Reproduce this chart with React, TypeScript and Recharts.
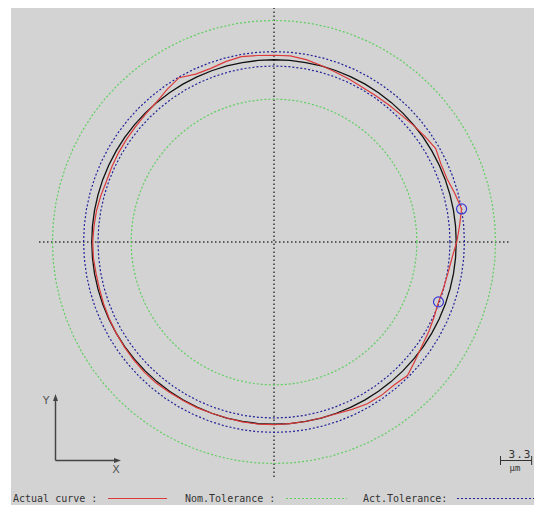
import React from 'react';
import { ScatterChart, Scatter, XAxis, YAxis, ReferenceLine } from 'recharts';

// Roundness profile, sampled every 5 degrees counter-clockwise from +X
const ANGLES = [
  0, 5, 10, 15, 20, 25, 30, 35, 40, 45, 50, 55, 60, 65, 70, 75, 80, 85,
  90, 95, 100, 105, 110, 115, 120, 125, 130, 135, 140, 145, 150, 155, 160, 165, 170, 175,
  180, 185, 190, 195, 200, 205, 210, 215, 220, 225, 230, 235, 240, 245, 250, 255, 260, 265,
  270, 275, 280, 285, 290, 295, 300, 305, 310, 315, 320, 325, 330, 335, 340, 345, 350, 355,
];

// deviation of the actual curve from nominal, µm
const ACTUAL_DEV = [
  0.05, 0.42, 0.86, 0.52, 0.21, 0.21, 0.47, 0.21, -0.05, -0.26, -0.36, -0.42, -0.42, -0.31, -0.16, 0.05, 0.31, 0.47,
  0.47, 0.52, 0.62, 0.47, 0.26, 0.31, 0.78, 0.42, 0.05, -0.1, -0.21, -0.26, -0.31, -0.36, -0.42, -0.31, -0.21, -0.16,
  -0.1, -0.1, -0.16, -0.16, -0.1, -0.05, 0, 0.05, 0.1, 0.16, 0.16, 0.1, 0.05, 0.05, 0, 0, 0.05, 0.05,
  0.05, 0, 0, 0, 0.05, 0.26, 0.47, 0.52, 0.47, 0.68, 0.21, -0.16, -0.36, -0.57, -0.75, -0.68, -0.57, -0.36,
];

// suppressed display radius of the nominal circle, µm
const NOMINAL_R = 19.0;
const NOM_TOLERANCE = [-4.1, 4.1];
const ACT_TOLERANCE = [-0.65, 0.85];

// max / min points flagged on the actual curve
const MARKER_ANGLES = [10, 340];

const SCALE_UM = 3.3;
const HALF_SPAN = 24.5;

const PLOT = 470;
const CX = 274;
const CY = 242;
const PX_PER_UM = PLOT / (2 * HALF_SPAN);

const toXY = (angle: number, r: number) => {
  const a = (angle * Math.PI) / 180;
  return { x: r * Math.cos(a), y: r * Math.sin(a) };
};

const ring = (dev: number) => {
  const pts = ANGLES.map((a) => toXY(a, NOMINAL_R + dev));
  return [...pts, pts[0]];
};

const actualPts = (() => {
  const pts = ANGLES.map((a, i) => toXY(a, NOMINAL_R + ACTUAL_DEV[i]));
  return [...pts, pts[0]];
})();

const markerPts = MARKER_ANGLES.map((m) => {
  const i = ANGLES.indexOf(m);
  return toXY(m, NOMINAL_R + ACTUAL_DEV[i]);
});

const GREEN = '#5fcf5f';
const BLUE = '#22229a';
const RED = '#dc3a3a';
const INK = '#333';

const noDot = () => <g />;

const MarkerRing = (props: any) => (
  <circle cx={props.cx} cy={props.cy} r={5} fill="none" stroke="#3a3ad6" strokeWidth={1.2} />
);

const Overlay = () => {
  const barLen = SCALE_UM * PX_PER_UM;
  const mono = { fontFamily: '"DejaVu Sans Mono", monospace', fontSize: 10, fill: INK };
  return (
    <svg
      width={542}
      height={513}
      style={{ position: 'absolute', left: 0, top: 0, pointerEvents: 'none' }}
    >
      {/* XY orientation glyph */}
      <g stroke="#444" strokeWidth={1.5} fill="#444">
        <line x1={55.5} y1={460.5} x2={55.5} y2={398} />
        <polygon points="55.5,394 53,401 58,401" stroke="none" />
        <line x1={55.5} y1={460.5} x2={117} y2={460.5} />
        <polygon points="121,460.5 114,458 114,463" stroke="none" />
      </g>
      <text x={46} y={404} textAnchor="middle" fontFamily="DejaVu Sans, sans-serif" fontSize={11} fill="#555">Y</text>
      <text x={116} y={473} textAnchor="middle" fontFamily="DejaVu Sans, sans-serif" fontSize={11} fill="#555">X</text>

      {/* scale bar */}
      <g stroke="#333" strokeWidth={1}>
        <line x1={500} y1={460.5} x2={500 + barLen} y2={460.5} />
        <line x1={500.5} y1={456} x2={500.5} y2={465} />
        <line x1={500 + barLen} y1={456} x2={500 + barLen} y2={465} />
      </g>
      <text x={520} y={458} textAnchor="middle" {...mono} fontSize={11} letterSpacing={1}>{SCALE_UM.toFixed(1)}</text>
      <text x={515} y={471} textAnchor="middle" {...mono} fontSize={9}>µm</text>

      {/* legend */}
      <text x={13} y={502} {...mono}>Actual curve :</text>
      <line x1={108} y1={498.5} x2={167} y2={498.5} stroke={RED} strokeWidth={1.2} />
      <text x={185} y={502} {...mono}>Nom.Tolerance :</text>
      <line x1={286} y1={498.5} x2={347} y2={498.5} stroke={GREEN} strokeWidth={1.2} strokeDasharray="2 2" />
      <text x={363} y={502} {...mono}>Act.Tolerance:</text>
      <line x1={457} y1={498.5} x2={542} y2={498.5} stroke={BLUE} strokeWidth={1.2} strokeDasharray="2 2" />
    </svg>
  );
};

export default function App() {
  return (
    <div style={{ position: 'relative', width: 542, height: 513, margin: -8, background: '#ffffff' }}>
      <div style={{ position: 'absolute', left: 11, top: 3, right: 0, bottom: 0, background: '#d3d3d3' }} />
      <div style={{ position: 'absolute', left: 0, top: 0 }}>
        <ScatterChart
          width={542}
          height={513}
          margin={{ left: CX - PLOT / 2, top: CY - PLOT / 2, right: 542 - CX - PLOT / 2, bottom: 513 - CY - PLOT / 2 }}
        >
          <XAxis type="number" dataKey="x" domain={[-HALF_SPAN, HALF_SPAN]} allowDataOverflow hide />
          <YAxis type="number" dataKey="y" domain={[-HALF_SPAN, HALF_SPAN]} allowDataOverflow hide />
          <ReferenceLine x={0} stroke="#3a3a3a" strokeWidth={1.5} strokeDasharray="1.5 2.5" />
          <ReferenceLine y={0} stroke="#3a3a3a" strokeWidth={1.5} strokeDasharray="1.5 2.5" />

          <Scatter data={ring(NOM_TOLERANCE[1])} shape={noDot} line={{ stroke: GREEN, strokeWidth: 1.2, strokeDasharray: '2 2' }} lineJointType="linear" isAnimationActive={false} />
          <Scatter data={ring(NOM_TOLERANCE[0])} shape={noDot} line={{ stroke: GREEN, strokeWidth: 1.2, strokeDasharray: '2 2' }} lineJointType="linear" isAnimationActive={false} />
          <Scatter data={ring(ACT_TOLERANCE[1])} shape={noDot} line={{ stroke: BLUE, strokeWidth: 1.2, strokeDasharray: '2 2' }} lineJointType="linear" isAnimationActive={false} />
          <Scatter data={ring(ACT_TOLERANCE[0])} shape={noDot} line={{ stroke: BLUE, strokeWidth: 1.2, strokeDasharray: '2 2' }} lineJointType="linear" isAnimationActive={false} />
          <Scatter data={ring(0)} shape={noDot} line={{ stroke: '#111', strokeWidth: 1.3 }} lineJointType="linear" isAnimationActive={false} />
          <Scatter data={actualPts} shape={noDot} line={{ stroke: RED, strokeWidth: 1.2 }} lineJointType="linear" isAnimationActive={false} />
          <Scatter data={markerPts} shape={MarkerRing} isAnimationActive={false} />
        </ScatterChart>
      </div>
      <Overlay />
    </div>
  );
}
